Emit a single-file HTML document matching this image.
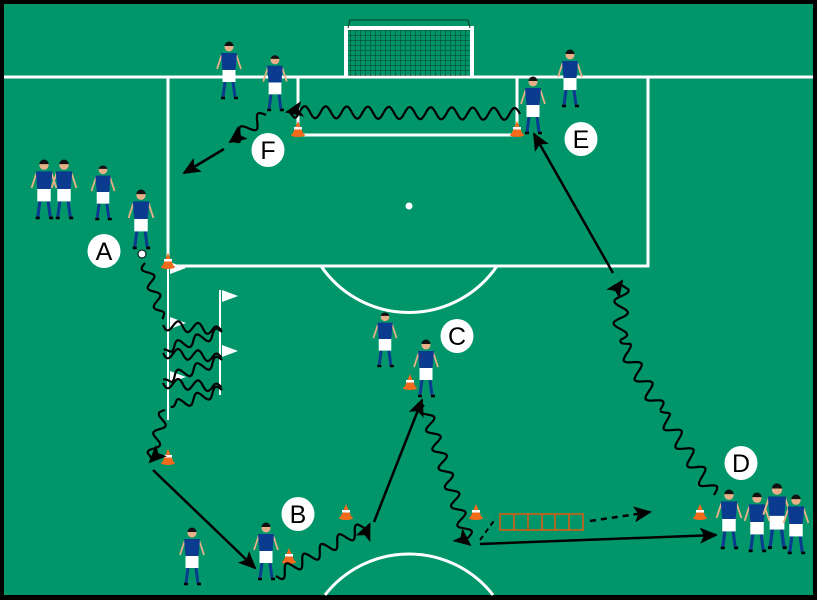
<!DOCTYPE html>
<html><head><meta charset="utf-8"><style>
html,body{margin:0;padding:0;background:#000;overflow:hidden;width:817px;height:600px}
svg{display:block}
</style></head><body>
<svg id="s" width="817" height="600" viewBox="0 0 817 600" xmlns="http://www.w3.org/2000/svg">
<defs>
<marker id="ahb" markerWidth="18" markerHeight="16" refX="16" refY="8" orient="auto" markerUnits="userSpaceOnUse" viewBox="0 0 18 16">
<path d="M0,0 L18,8 L0,16 L4,8 z" fill="#000"/></marker>
<pattern id="net" width="5" height="5" patternUnits="userSpaceOnUse"><path d="M0,0H5M0,0V5" stroke="#0a3a22" stroke-width="1"/></pattern>
</defs>
<rect x="0" y="0" width="817" height="600" fill="#000"/>
<rect x="4" y="4" width="809" height="591" fill="#00966a"/>
<g fill="none" stroke="#fff" stroke-width="3">
<line x1="4" y1="77" x2="813" y2="77"/>
<polyline points="168,77 168,266 648,266 648,77"/>
<polyline points="298,77 298,135 517,135 517,77"/>
<path d="M321,266 A106.5,106.5 0 0 0 497,266"/>
<path d="M325,595 A106.5,106.5 0 0 1 493,595"/>
</g>
<rect x="348" y="30" width="122" height="46" fill="url(#net)"/>
<path d="M346,76 V28 H472 V76" fill="none" stroke="#fff" stroke-width="4"/>
<path d="M348,28 L350,20 H468 L470,28" fill="none" stroke="#0a3a22" stroke-width="1"/>
<circle cx="409" cy="206" r="3.5" fill="#fff"/>
<g stroke="#fff" stroke-width="2"><line x1="168" y1="262" x2="168" y2="420"/><line x1="220" y1="290" x2="220" y2="395"/></g>
<g fill="#fff"><path d="M170,262 l16,6 l-16,6z"/><path d="M170,317 l16,6 l-16,6z"/><path d="M170,371 l16,6 l-16,6z"/><path d="M222,290 l16,6 l-16,6z"/><path d="M222,345 l16,6 l-16,6z"/></g>
<g fill="none" stroke="#e05a10" stroke-width="1.5">
<rect x="500" y="514" width="83" height="16"/>
<line x1="514" y1="514" x2="514" y2="530"/><line x1="528" y1="514" x2="528" y2="530"/><line x1="542" y1="514" x2="542" y2="530"/><line x1="555" y1="514" x2="555" y2="530"/><line x1="569" y1="514" x2="569" y2="530"/>
</g>
<g id="dyn"></g>
<g font-family="Liberation Sans, sans-serif" font-size="25" text-anchor="middle" fill="#000">
<g fill="#fff"><ellipse cx="104" cy="251" rx="16.5" ry="17"/><ellipse cx="298" cy="514" rx="16.5" ry="17"/><ellipse cx="457" cy="336" rx="16.5" ry="17"/><ellipse cx="741" cy="463" rx="16.5" ry="17"/><ellipse cx="581" cy="139" rx="16.5" ry="17"/><ellipse cx="268" cy="150" rx="16.5" ry="17"/></g>
<text x="104" y="260">A</text><text x="298" y="523">B</text><text x="457" y="345">C</text><text x="741" y="472">D</text><text x="581" y="148">E</text><text x="268" y="159">F</text>
</g>
</svg>
<script>
var NS="http://www.w3.org/2000/svg",g=document.getElementById("dyn");
function el(t,a){var e=document.createElementNS(NS,t);for(var k in a)e.setAttribute(k,a[k]);g.appendChild(e);return e;}
function wavy(x1,y1,x2,y2,amp,wl,arrow){var dx=x2-x1,dy=y2-y1,L=Math.hypot(dx,dy),ux=dx/L,uy=dy/L,nx=-uy,ny=ux,d="";
 var n=Math.floor(L);for(var i=0;i<=n;i++){var w=Math.sin(i/wl*2*Math.PI)*amp*(i>n-8?Math.max(0,(n-i)/8):1);var x=x1+ux*i+nx*w,y=y1+uy*i+ny*w;d+=(i?"L":"M")+x.toFixed(1)+","+y.toFixed(1);}
 var p=el("path",{d:d,fill:"none",stroke:"#000","stroke-width":2.2});if(arrow)p.setAttribute("marker-end","url(#ahb)");}
function line(x1,y1,x2,y2,dash){var p=el("line",{x1:x1,y1:y1,x2:x2,y2:y2,stroke:"#000","stroke-width":2.5,"marker-end":"url(#ahb)"});if(dash)p.setAttribute("stroke-dasharray","6,5");}
function cone(x,y){el("path",{d:"M"+(x-6)+","+(y+5)+" L"+x+","+(y-9)+" L"+(x+6)+","+(y+5)+"z",fill:"#f26a1b"});el("rect",{x:x-4,y:y-3,width:8,height:2.5,fill:"#fff"});el("ellipse",{cx:x,cy:y+5,rx:7,ry:2,fill:"#f26a1b"});}
function player(x,y,h){var s=h/58;
 el("path",{d:"M"+(x-4*s)+","+(y+40*s)+" L"+(x-6*s)+","+(y+55*s)+" M"+(x+4*s)+","+(y+40*s)+" L"+(x+6*s)+","+(y+55*s),stroke:"#0b3b8f","stroke-width":3*s,fill:"none"});
 el("path",{d:"M"+(x-8*s)+","+(y+56*s)+"h4M"+(x+5*s)+","+(y+56*s)+"h4",stroke:"#000","stroke-width":2.5*s});
 el("rect",{x:x-6.5*s,y:y+27*s,width:13*s,height:13*s,fill:"#fff"});
 el("path",{d:"M"+(x-7*s)+","+(y+12*s)+" L"+(x-12*s)+","+(y+27*s)+" M"+(x+7*s)+","+(y+12*s)+" L"+(x+12*s)+","+(y+27*s),stroke:"#e8b088","stroke-width":1.8*s,fill:"none"});
 el("path",{d:"M"+(x-8*s)+","+(y+11*s)+" L"+(x+8*s)+","+(y+11*s)+" L"+(x+6.5*s)+","+(y+28*s)+" L"+(x-6.5*s)+","+(y+28*s)+"z",fill:"#0b3b8f"});
 el("circle",{cx:x,cy:y+5*s,r:4.5*s,fill:"#e8b088"});
 el("path",{d:"M"+(x-4.5*s)+","+(y+4*s)+" A4.5,4.5 0 0 1 "+(x+4.5*s)+","+(y+4*s)+"z",fill:"#111"});}
[[229,42,58],[275,55,57],[533,77,58],[570,50,58],[44,160,60],[64,160,60],[103,165,56],[141,190,60],[385,312,56],[426,340,58],[192,528,58],[266,523,58],[729,490,60],[757,493,60],[777,484,66],[796,495,60]].forEach(function(p){player(p[0],p[1],p[2]);});
[[298,130],[517,130],[168,262],[168,458],[346,513],[289,557],[410,383],[476,513],[700,513]].forEach(function(c){cone(c[0],c[1]);});
el("circle",{cx:142,cy:254,r:4,fill:"#fff",stroke:"#000","stroke-width":1});
wavy(520,114,287,112,6,21,true);
wavy(266,115,230,142,6,22,true);
line(224,149,184,173);
line(613,273,534,134);
wavy(145,263,163,320,5,20,false);
wavy(163,325,222,330,5,20,false);
wavy(222,332,163,350,5,20,false);
wavy(163,353,222,357,5,20,false);
wavy(222,360,163,380,5,20,false);
wavy(163,383,222,387,5,20,false);
wavy(222,390,170,407,5,20,false);
wavy(165,410,150,462,5,20,true);
line(153,470,255,568);
wavy(276,576,370,524,6,20,true);
line(374,522,422,400);
wavy(424,405,470,545,6,20,true);
line(480,544,716,535);
el("path",{d:"M480,540 L496,518",stroke:"#000","stroke-width":2,"stroke-dasharray":"5,4"});
line(590,521,650,512,true);
wavy(714,495,660,410,7,22,false);
wavy(660,410,620,340,7,22,false);
wavy(620,340,622,281,7,22,true);
</script>
</body></html>
